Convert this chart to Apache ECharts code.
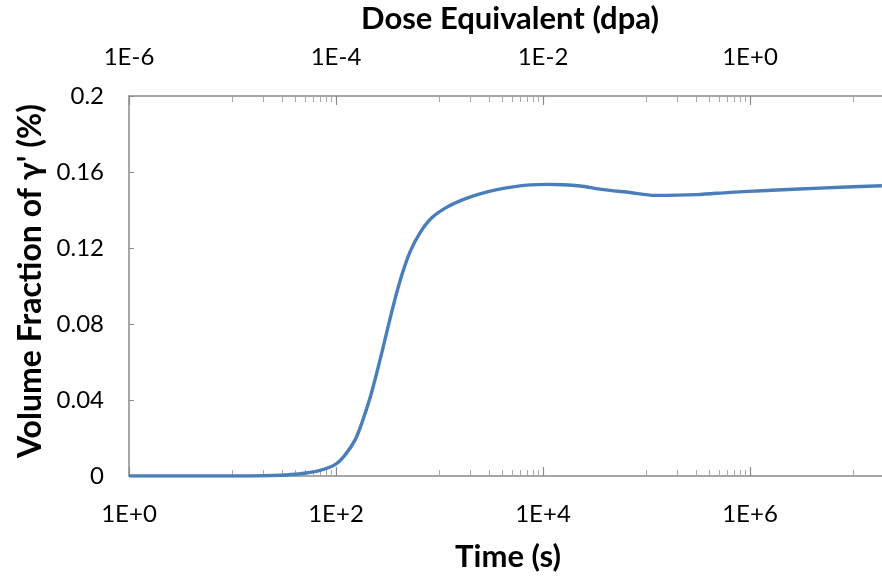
<!DOCTYPE html>
<html><head><meta charset="utf-8">
<script src="https://cdn.jsdelivr.net/npm/echarts@6/dist/echarts.min.js"></script>
<style>html,body{margin:0;padding:0;background:#fff}#c{width:882px;height:582px}</style>
</head><body><div id="c"></div>
<script>
// Time (s) and volume fraction of gamma' (%)
const timeS = [1, 15, 29, 45, 70, 98, 122, 153, 178, 213, 255, 304, 363, 434, 519, 648, 847, 1180, 1690, 2460, 3590, 5130, 7480, 10900, 15600, 22800, 35500, 69300, 121000, 307000, 641000, 1460000, 4740000, 18800000];
const fraction = [0, 0, 0.0004, 0.0012, 0.003, 0.006, 0.011, 0.019, 0.028, 0.041, 0.057, 0.074, 0.091, 0.106, 0.118, 0.128, 0.136, 0.1415, 0.1455, 0.1485, 0.1507, 0.1522, 0.1532, 0.1535, 0.1533, 0.1526, 0.151, 0.1492, 0.1477, 0.1481, 0.1493, 0.1503, 0.1515, 0.1528];
const bottomMajor = [1, 1e2, 1e4, 1e6, 1e8];
const topMajor = [1e-6, 1e-4, 1e-2, 1, 1e2];
const yTicks = [0, 0.04, 0.08, 0.12, 0.16, 0.2];
const titleX = 'Time (s)';
const titleTop = 'Dose Equivalent (dpa)';
const titleY = "Volume Fraction of γ' (%)";

function minorFor(majors){
  const out=[];
  for(let i=0;i<majors.length-1;i++){
    const b=majors[i];
    for(let k=1;k<=9;k++) out.push(b*10*k);
  }
  return out;
}
function fmt(v){const e=Math.round(Math.log10(v));return '1E'+(e>=0?'+':'-')+Math.abs(e);}

const font = 'Lato';
const axisCol = '#8a8a8a';
const lab = {fontFamily:font,fontSize:24,color:'#000'};

const chart = echarts.init(document.getElementById('c'),null,{renderer:'canvas'});
chart.setOption({
  animation:false,
  grid:{left:129,right:-75,top:96,bottom:106,containLabel:false,outerBoundsMode:'none'},
  xAxis:[
    {type:'log',logBase:10,min:1,max:1e8,position:'bottom',
     axisLine:{show:true,onZero:false,lineStyle:{color:axisCol,width:1.5}},
     axisTick:{show:true,inside:true,length:9,lineStyle:{color:axisCol,width:1.2},customValues:bottomMajor},
     axisLabel:{show:true,margin:26,customValues:bottomMajor,formatter:fmt,...lab},
     splitLine:{show:false},minorTick:{show:false}},
    {type:'log',logBase:10,min:1,max:1e8,position:'bottom',
     axisLine:{show:false,onZero:false},
     axisTick:{show:true,inside:true,length:6,lineStyle:{color:'#a8a8a8',width:1},customValues:minorFor(bottomMajor)},
     axisLabel:{show:false},splitLine:{show:false}},
    {type:'log',logBase:10,min:1e-6,max:1e2,position:'top',
     axisLine:{show:true,onZero:false,lineStyle:{color:axisCol,width:1.5}},
     axisTick:{show:true,inside:true,length:9,lineStyle:{color:axisCol,width:1.2},customValues:topMajor},
     axisLabel:{show:true,margin:27,customValues:topMajor,formatter:fmt,...lab},
     splitLine:{show:false}},
    {type:'log',logBase:10,min:1e-6,max:1e2,position:'top',
     axisLine:{show:false,onZero:false},
     axisTick:{show:true,inside:true,length:6,lineStyle:{color:'#a8a8a8',width:1},customValues:minorFor(topMajor)},
     axisLabel:{show:false},splitLine:{show:false}}
  ],
  yAxis:{type:'value',min:0,max:0.2,interval:0.04,
     axisLine:{show:true,lineStyle:{color:axisCol,width:1.5}},
     axisTick:{show:true,inside:true,length:5,lineStyle:{color:axisCol}},
     axisLabel:{margin:25,formatter:v=>String(+v.toFixed(2)),...lab},
     splitLine:{show:false}},
  graphic:[
    {type:'text',style:{text:titleTop,x:510,y:19,align:'center',verticalAlign:'middle',fontFamily:font,fontWeight:'bold',fontSize:31,fill:'#000'}},
    {type:'text',style:{text:titleX,x:508,y:557,align:'center',verticalAlign:'middle',fontFamily:font,fontWeight:'bold',fontSize:31,fill:'#000'}},
    {type:'text',x:31,y:281,rotation:Math.PI/2,style:{text:titleY,x:0,y:0,align:'center',verticalAlign:'middle',fontFamily:font,fontWeight:'bold',fontSize:32,fill:'#000'}}
  ],
  series:[{type:'line',xAxisIndex:0,yAxisIndex:0,data:timeS.map((t,i)=>[t,fraction[i]]),smooth:0.3,showSymbol:false,
    lineStyle:{color:'#4a7ebb',width:3.4},clip:true}]
});
</script></body></html>
